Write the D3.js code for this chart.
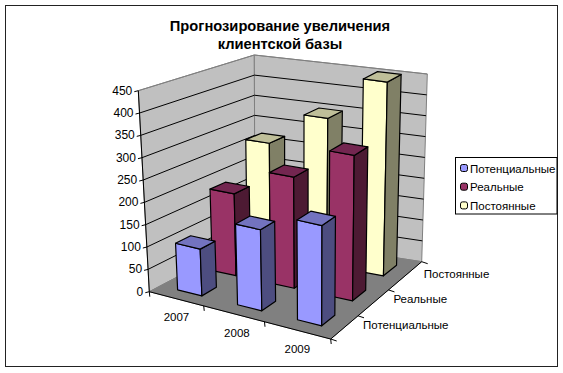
<!DOCTYPE html>
<html>
<head>
<meta charset="utf-8">
<script src="https://cdn.jsdelivr.net/npm/d3@7"></script>
<style>
  html, body { margin: 0; padding: 0; background: #fff; }
  text { font-family: "Liberation Sans", Arial, sans-serif; fill: #000; }
</style>
</head>
<body>
<svg id="chart" width="563" height="373"></svg>
<script>
var years = ["2007", "2008", "2009"];
var seriesNames = ["Потенциальные", "Реальные", "Постоянные"];
var potential = [105, 180, 220];
var real = [190, 255, 330];
var constant = [270, 350, 455];
var titleLines = ["Прогнозирование увеличения", "клиентской базы"];
var valueTicks = [0, 50, 100, 150, 200, 250, 300, 350, 400, 450];

var seriesValues = [potential, real, constant];
var faceColors = [
  {front: "#9999ff", side: "#4d4d80", top: "#7373bf"},
  {front: "#993366", side: "#4d1a33", top: "#732650"},
  {front: "#ffffcc", side: "#808066", top: "#bfbf99"}
];

var svg = d3.select("#chart");

// corners of the 3d box as seen in the picture, a=front left, b=front right, c=back right, d=back left
var floorQuad = [[149.3, 291.7], [330.7, 339], [421.7, 261.7], [255, 236]];
var topQuad = [[138.3, 90.7], [332, 131], [427.3, 74], [254.3, 55]];

function quadMap(q) {
  return function(u, v) {
    var a = d3.interpolate(q[0], q[1])(u),
        b = d3.interpolate(q[3], q[2])(u);
    return d3.interpolate(a, b)(v);
  };
}

var floorMap = quadMap(floorQuad),
    topMap = quadMap(topQuad);

var yScale = d3.scaleLinear().domain([0, 450]).range([0, 1]);
var uScale = d3.scaleBand().domain(years).range([0, 1]).paddingInner(0.595).paddingOuter(0.2975).align(0.47);
var vScale = d3.scaleBand().domain(seriesNames).range([0, 1]).paddingInner(0.575).paddingOuter(0.2875).align(0.57);

function project(u, v, val) {
  var f = floorMap(u, v), t = topMap(u, v), k = yScale(val);
  return [f[0] + (t[0] - f[0]) * k, f[1] + (t[1] - f[1]) * k];
}

var line = d3.line().curve(d3.curveLinearClosed);
var open = d3.line();

// walls and floor
svg.append("rect").attr("x", 5.5).attr("y", 5.5).attr("width", 552).attr("height", 361)
  .attr("fill", "#fff").attr("stroke", "#222");

var walls = svg.append("g");
walls.append("path")
  .attr("d", line([project(0, 0, 0), project(0, 1, 0), project(0, 1, 450), project(0, 0, 450)]))
  .attr("fill", "#c0c0c0").attr("stroke", "#808080");
walls.append("path")
  .attr("d", line([project(0, 1, 0), project(1, 1, 0), project(1, 1, 450), project(0, 1, 450)]))
  .attr("fill", "#c0c0c0").attr("stroke", "#808080");
walls.append("path")
  .attr("d", line([project(0, 0, 0), project(1, 0, 0), project(1, 1, 0), project(0, 1, 0)]))
  .attr("fill", "#808080").attr("stroke", "#808080");

// gridlines
valueTicks.slice(1).forEach(function(t) {
  walls.append("path")
    .attr("d", open([project(0, 0, t), project(0, 1, t), project(1, 1, t)]))
    .attr("fill", "none").attr("stroke", t == 450 ? "#808080" : "#000").attr("stroke-width", 1);
});

// value axis
walls.append("path")
  .attr("d", open([project(0, 0, 0), project(0, 0, 450)]))
  .attr("fill", "none").attr("stroke", "#000");
valueTicks.forEach(function(t) {
  var p = project(0, 0, t);
  walls.append("line").attr("x1", p[0] - 4).attr("x2", p[0]).attr("y1", p[1] + 1).attr("y2", p[1])
    .attr("stroke", "#000");
  svg.append("text").attr("x", p[0] - 6).attr("y", p[1] + 4)
    .attr("text-anchor", "end").attr("font-size", 12).text(t);
});

// front and right axes
walls.append("path").attr("d", open([project(0, 0, 0), project(1, 0, 0), project(1, 1, 0)]))
  .attr("fill", "none").attr("stroke", "#000");
[0, 0.3, 0.635, 1].forEach(function(t) {
  var p = project(t, 0, 0);
  walls.append("line").attr("x1", p[0]).attr("x2", p[0] + 0.5).attr("y1", p[1]).attr("y2", p[1] + 5).attr("stroke", "#000");
  var q = project(1, t, 0);
  walls.append("line").attr("x1", q[0]).attr("x2", q[0] + 6).attr("y1", q[1]).attr("y2", q[1] + 2).attr("stroke", "#000");
});

// bars, back row first, then left to right
d3.range(seriesNames.length - 1, -1, -1).forEach(function(s) {
  var name = seriesNames[s];
  years.forEach(function(year, i) {
    var u0 = uScale(year), u1 = u0 + uScale.bandwidth(),
        v0 = vScale(name), v1 = v0 + vScale.bandwidth(),
        val = seriesValues[s][i], c = faceColors[s];
    var g = svg.append("g").attr("stroke", "#000").attr("stroke-width", 1.2).attr("stroke-linejoin", "round");
    g.append("path").attr("fill", c.front)
      .attr("d", line([project(u0, v0, 0), project(u1, v0, 0), project(u1, v0, val), project(u0, v0, val)]));
    g.append("path").attr("fill", c.side)
      .attr("d", line([project(u1, v0, 0), project(u1, v1, 0), project(u1, v1, val), project(u1, v0, val)]));
    g.append("path").attr("fill", c.top)
      .attr("d", line([project(u0, v0, val), project(u1, v0, val), project(u1, v1, val), project(u0, v1, val)]));
  });
});

// category labels
years.forEach(function(year, i) {
  var p = project(uScale(year) + uScale.bandwidth() / 2, 0, 0);
  svg.append("text").attr("x", p[0] - 2).attr("y", p[1] + 22)
    .attr("text-anchor", "middle").attr("font-size", 11.5).text(year);
});
seriesNames.forEach(function(name, i) {
  var p = project(1, vScale(name) + vScale.bandwidth() / 2, 0);
  svg.append("text").attr("x", p[0] + 16).attr("y", p[1] + 4)
    .attr("font-size", 11.5).text(name);
});

// title
titleLines.forEach(function(t, i) {
  svg.append("text").attr("x", 280).attr("y", 31 + i * 18)
    .attr("text-anchor", "middle").attr("font-size", 14.7).attr("font-weight", "bold").text(t);
});

// legend
var legend = svg.append("g");
legend.append("rect").attr("x", 455.5).attr("y", 157.5).attr("width", 101.5).attr("height", 56.5)
  .attr("fill", "#fff").attr("stroke", "#000");
seriesNames.forEach(function(name, i) {
  var y = 168 + i * 18.7;
  legend.append("rect").attr("x", 460.5).attr("y", y - 3.5).attr("width", 7).attr("height", 7).attr("rx", 2)
    .attr("fill", faceColors[i].front).attr("stroke", "#000");
  legend.append("text").attr("x", 470).attr("y", y + 4.5).attr("font-size", 11.5).text(name);
});
</script>
</body>
</html>
